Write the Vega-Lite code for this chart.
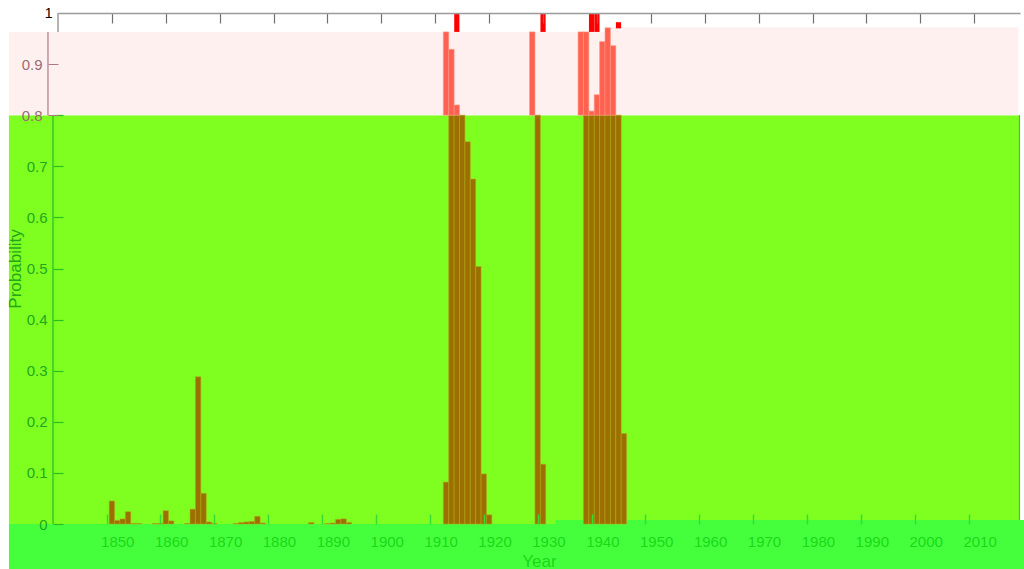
{
  "$schema": "https://vega.github.io/schema/vega-lite/v6.json",
  "autosize": "none",
  "width": 962,
  "height": 511,
  "padding": {"left": 58, "top": 13, "right": 4, "bottom": 45},
  "background": "white",
  "config": {
    "view": {"stroke": null},
    "font": "Liberation Sans",
    "axis": {"labelFont": "Liberation Sans", "titleFont": "Liberation Sans", "grid": false, "titleFontWeight": "normal"}
  },
  "datasets": {
    "brown": [
      {"year": 1849, "p": 0.045}, {"year": 1850, "p": 0.007}, {"year": 1851, "p": 0.01}, {"year": 1852, "p": 0.024},
      {"year": 1853, "p": 0.001}, {"year": 1854, "p": 0.001}, {"year": 1857, "p": 0.001}, {"year": 1858, "p": 0.001},
      {"year": 1859, "p": 0.026}, {"year": 1860, "p": 0.006}, {"year": 1863, "p": 0.001}, {"year": 1864, "p": 0.029},
      {"year": 1865, "p": 0.288}, {"year": 1866, "p": 0.06}, {"year": 1867, "p": 0.004}, {"year": 1868, "p": 0.001},
      {"year": 1872, "p": 0.001}, {"year": 1873, "p": 0.003}, {"year": 1874, "p": 0.004}, {"year": 1875, "p": 0.005},
      {"year": 1876, "p": 0.015}, {"year": 1877, "p": 0.002}, {"year": 1886, "p": 0.003}, {"year": 1889, "p": 0.001},
      {"year": 1890, "p": 0.002}, {"year": 1891, "p": 0.009}, {"year": 1892, "p": 0.01}, {"year": 1893, "p": 0.003},
      {"year": 1911, "p": 0.082}, {"year": 1912, "p": 0.8}, {"year": 1913, "p": 0.8}, {"year": 1914, "p": 0.8},
      {"year": 1915, "p": 0.748}, {"year": 1916, "p": 0.675}, {"year": 1917, "p": 0.504}, {"year": 1918, "p": 0.098},
      {"year": 1919, "p": 0.018}, {"year": 1928, "p": 0.8}, {"year": 1929, "p": 0.117},
      {"year": 1937, "p": 0.8}, {"year": 1938, "p": 0.8}, {"year": 1939, "p": 0.8}, {"year": 1940, "p": 0.8},
      {"year": 1941, "p": 0.8}, {"year": 1942, "p": 0.8}, {"year": 1943, "p": 0.8}, {"year": 1944, "p": 0.177}
    ],
    "red": [
      {"year": 1911, "p": 0.963}, {"year": 1912, "p": 0.929}, {"year": 1913, "p": 0.82}, {"year": 1927, "p": 0.963},
      {"year": 1936, "p": 0.963}, {"year": 1937, "p": 0.963}, {"year": 1938, "p": 0.808}, {"year": 1939, "p": 0.84},
      {"year": 1940, "p": 0.944}, {"year": 1941, "p": 0.971}, {"year": 1942, "p": 0.936}
    ],
    "top": [
      {"year": 1913, "lo": 0.963, "hi": 1.0}, {"year": 1929, "lo": 0.963, "hi": 1.0},
      {"year": 1938, "lo": 0.963, "hi": 1.0}, {"year": 1939, "lo": 0.963, "hi": 1.0},
      {"year": 1943, "lo": 0.97, "hi": 0.982}
    ]
  },
  "resolve": {"axis": {"x": "independent", "y": "independent"}},
  "layer": [
    {
      "data": {"values": [{}]},
      "mark": {"type": "rect", "color": "#46ff3c"},
      "encoding": {
        "x": {"datum": 1829.9, "type": "quantitative", "scale": {"domain": [1839, 2017.5], "nice": false, "zero": false, "padding": 0}, "axis": null},
        "x2": {"datum": 2018.5},
        "y": {"datum": -0.1, "type": "quantitative", "scale": {"domain": [0, 1], "nice": false, "zero": false, "padding": 0}, "axis": null},
        "y2": {"datum": 0}
      }
    },
    {
      "data": {"values": [{}]},
      "mark": {"type": "rect", "color": "#7fff20"},
      "encoding": {
        "x": {"datum": 1829.9, "type": "quantitative", "scale": {"domain": [1839, 2017.5], "nice": false, "zero": false, "padding": 0},
          "axis": {"orient": "bottom", "zindex": 2, "values": [1850, 1860, 1870, 1880, 1890, 1900, 1910, 1920, 1930, 1940, 1950, 1960, 1970, 1980, 1990, 2000, 2010],
            "format": "d", "ticks": false, "domain": false, "labelColor": "#19d919", "labelFontSize": 15, "labelPadding": 10,
            "title": "Year", "titleColor": "#19d919", "titleFontSize": 17, "titlePadding": 4}},
        "x2": {"datum": 2017.5},
        "y": {"datum": 0, "type": "quantitative", "scale": {"domain": [0, 1], "nice": false, "zero": false, "padding": 0},
          "axis": {"orient": "left", "zindex": 2, "offset": 5, "values": [0, 0.1, 0.2, 0.3, 0.4, 0.5, 0.6, 0.7, 0.8],
            "labelExpr": "datum.value == 0 ? '0' : (datum.value > 0.75 ? '' : format(datum.value, '.1f'))",
            "domain": false, "tickSize": -10, "tickColor": "#22c022", "tickWidth": 1.2, "labelColor": "#1ea81e", "labelFontSize": 15, "labelPadding": 16,
            "title": "Probability", "titleColor": "#1ea81e", "titleFontSize": 17, "titlePadding": 2}},
        "y2": {"datum": 0.8}
      }
    },
    {
      "data": {"values": [{}]},
      "mark": {"type": "rect", "color": "#46ff3c"},
      "encoding": {
        "x": {"datum": 1931.3, "type": "quantitative", "axis": null},
        "x2": {"datum": 2018.5},
        "y": {"datum": 0, "type": "quantitative", "axis": null},
        "y2": {"datum": 0.008}
      }
    },
    {
      "data": {"values": [{}]},
      "mark": {"type": "rect", "color": "#fff0f0"},
      "encoding": {
        "x": {"datum": 1829.9, "type": "quantitative",
          "axis": {"orient": "top", "zindex": 2, "values": [1849, 1859, 1869, 1879, 1889, 1899, 1909, 1919, 1929, 1939, 1949, 1959, 1969, 1979, 1989, 1999, 2009],
            "labels": false, "tickSize": -10, "tickColor": "#707070", "tickWidth": 1.2, "domainColor": "#9a9a9a", "domainWidth": 1.6, "title": null}},
        "x2": {"datum": 2017.2},
        "y": {"datum": 0.8, "type": "quantitative",
          "axis": {"orient": "left", "zindex": 2, "offset": 10, "values": [0.8, 0.9], "format": ".1f", "domain": false, "tickSize": -10,
            "tickColor": "#b07a80", "labelColor": "#9c6a70", "labelFontSize": 15, "labelPadding": 16, "title": null}},
        "y2": {"datum": 0.963}
      }
    },
    {
      "data": {"values": [{}]},
      "mark": {"type": "rect", "color": "#fff0f0"},
      "encoding": {
        "x": {"datum": 1940.5, "type": "quantitative", "axis": null},
        "x2": {"datum": 2017.2},
        "y": {"datum": 0.963, "type": "quantitative", "axis": null},
        "y2": {"datum": 0.972}
      }
    },
    {
      "data": {"name": "brown"},
      "mark": {"type": "bar", "width": 5.39, "color": "#9b7000", "stroke": "#b5a21a", "strokeWidth": 0.6},
      "encoding": {
        "x": {"field": "year", "type": "quantitative",
          "axis": {"orient": "bottom", "zindex": 2, "values": [1848, 1858, 1868, 1878, 1888, 1898, 1908, 1918, 1928, 1938, 1948, 1958, 1968, 1978, 1988, 1998, 2008],
            "labels": false, "domain": false, "tickSize": -10, "tickColor": "#33dd33", "tickWidth": 1.5, "title": null}},
        "y": {"field": "p", "type": "quantitative",
          "axis": {"orient": "left", "zindex": 2, "values": [1], "domain": false, "ticks": false, "labelColor": "#000000", "labelFontSize": 14, "labelPadding": 6, "title": null}}
      }
    },
    {
      "data": {"name": "red"},
      "mark": {"type": "bar", "width": 5.39, "color": "#ff6150", "stroke": "#ff9585", "strokeWidth": 0.6},
      "encoding": {
        "x": {"field": "year", "type": "quantitative", "axis": null},
        "y": {"field": "p", "type": "quantitative", "axis": null},
        "y2": {"datum": 0.8}
      }
    },
    {
      "data": {"name": "top"},
      "mark": {"type": "bar", "width": 5.2, "color": "#ff0000"},
      "encoding": {
        "x": {"field": "year", "type": "quantitative", "axis": null},
        "y": {"field": "hi", "type": "quantitative", "axis": null},
        "y2": {"field": "lo"}
      }
    },
    {
      "data": {"values": [{}]},
      "mark": {"type": "rule", "color": "#22c022", "strokeWidth": 1.2},
      "encoding": {
        "x": {"datum": 1838.07, "type": "quantitative", "axis": null},
        "y": {"datum": 0, "type": "quantitative", "axis": null},
        "y2": {"datum": 0.8}
      }
    },
    {
      "data": {"values": [{}]},
      "mark": {"type": "rule", "color": "#b07a80", "strokeWidth": 1.2},
      "encoding": {
        "x": {"datum": 1837.14, "type": "quantitative", "axis": null},
        "y": {"datum": 0.8, "type": "quantitative", "axis": null},
        "y2": {"datum": 0.963}
      }
    },
    {
      "data": {"values": [{}]},
      "mark": {"type": "rule", "color": "#808080", "strokeWidth": 1.2},
      "encoding": {
        "x": {"datum": 1839, "type": "quantitative", "axis": null},
        "y": {"datum": 0.963, "type": "quantitative", "axis": null},
        "y2": {"datum": 1}
      }
    },
    {
      "data": {"values": [{}]},
      "mark": {"type": "rule", "color": "#33cc33", "strokeWidth": 1.2},
      "encoding": {
        "x": {"datum": 2017.4, "type": "quantitative", "axis": null},
        "y": {"datum": 0.008, "type": "quantitative", "axis": null},
        "y2": {"datum": 0.8}
      }
    }
  ]
}
